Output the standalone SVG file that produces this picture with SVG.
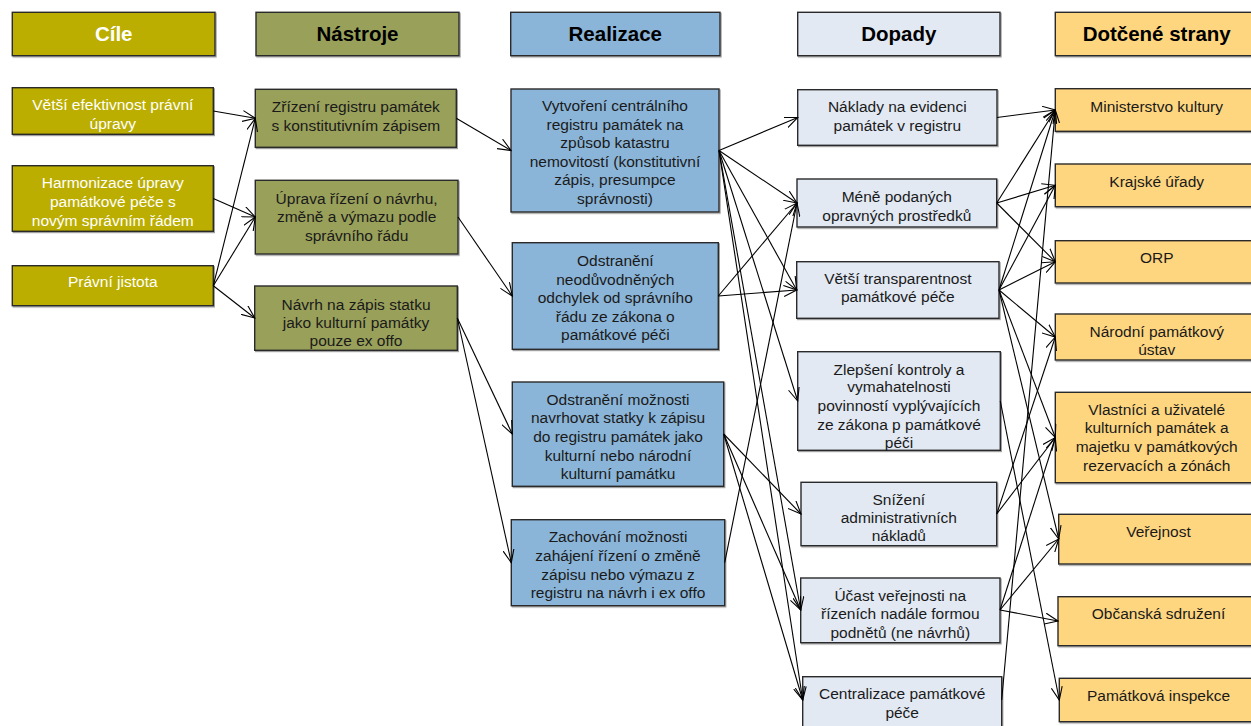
<svg xmlns="http://www.w3.org/2000/svg" width="1251" height="726" viewBox="0 0 1251 726">
<defs>
<style>
text{font-family:"Liberation Sans",Arial,sans-serif;font-size:15.5px;text-anchor:middle;fill:#1a1a1a}
.h{font-size:20.5px;font-weight:bold;fill:#000}
.w{fill:#fff}
rect{stroke:#2a2a2a;stroke-width:1.4;filter:url(#sh)}
.c{fill:#BBAE00}
.n{fill:#99A05A}
.r{fill:#8BB5D8}
.d{fill:#E2E9F3}
.s{fill:#FFD680}
#conn line{stroke:#000;stroke-width:1.1;marker-end:url(#arr)}
</style>
<filter id="sh" x="-5%" y="-5%" width="110%" height="115%">
<feDropShadow dx="1" dy="1.2" stdDeviation="0.6" flood-color="#888" flood-opacity="0.8"/>
</filter>
<marker id="arr" markerWidth="14" markerHeight="12" refX="13" refY="6" orient="auto" markerUnits="userSpaceOnUse" viewBox="0 0 14 12">
<path d="M0,0.5 L13,6 L0,11.5" fill="none" stroke="#000" stroke-width="1.1"/>
</marker>
</defs>
<rect x="0" y="0" width="1251" height="726" fill="#fff" style="stroke:none;filter:none"/>

<g id="hdr-cile"><rect class="c" x="12.3" y="12.3" width="202.7" height="43.4"/><text class="h w" x="113.7" y="40.5">Cíle</text></g>
<g id="hdr-nastroje"><rect class="n" x="256" y="12.3" width="203" height="43.4"/><text class="h" x="357.5" y="40.5">Nástroje</text></g>
<g id="hdr-realizace"><rect class="r" x="510.7" y="12.3" width="209.3" height="43.4"/><text class="h" x="615.3" y="40.5">Realizace</text></g>
<g id="hdr-dopady"><rect class="d" x="797.7" y="12.3" width="202.3" height="43.4"/><text class="h" x="898.8" y="40.5">Dopady</text></g>
<g id="hdr-strany"><rect class="s" x="1055.3" y="12.3" width="203" height="43.4"/><text class="h" x="1156.7" y="40.5">Dotčené strany</text></g>

<g id="c1"><rect class="c" x="12.3" y="87.7" width="201" height="46.6"/><text class="w" x="112.8" y="110">Větší efektivnost právní</text><text class="w" x="112.8" y="129">úpravy</text></g>
<g id="c2"><rect class="c" x="12.3" y="165.7" width="201" height="65.6"/><text class="w" x="112.8" y="188">Harmonizace úpravy</text><text class="w" x="112.8" y="207">památkové péče s</text><text class="w" x="112.8" y="225.5">novým správním řádem</text></g>
<g id="c3"><rect class="c" x="12.3" y="265.7" width="201" height="40"/><text class="w" x="112.8" y="287">Právní jistota</text></g>

<g id="n1"><rect class="n" x="255.3" y="89.3" width="201" height="58"/><text x="355.8" y="112">Zřízení registru památek</text><text x="355.8" y="130.5">s konstitutivním zápisem</text></g>
<g id="n2"><rect class="n" x="255.3" y="180.3" width="202.7" height="73.7"/><text x="356.6" y="203.5">Úprava řízení o návrhu,</text><text x="356.6" y="221.5">změně a výmazu podle</text><text x="356.6" y="240.5">správního řádu</text></g>
<g id="n3"><rect class="n" x="254.7" y="286" width="202.6" height="64.3"/><text x="356" y="309.5">Návrh na zápis statku</text><text x="356" y="328">jako kulturní památky</text><text x="356" y="346">pouze ex offo</text></g>

<g id="r1"><rect class="r" x="511" y="89" width="208" height="123"/><text x="615" y="111">Vytvoření centrálního</text><text x="615" y="130">registru památek na</text><text x="615" y="148">způsob katastru</text><text x="615" y="167">nemovitostí (konstitutivní</text><text x="615" y="185">zápis, presumpce</text><text x="615" y="203.5">správnosti)</text></g>
<g id="r2"><rect class="r" x="512.3" y="242.7" width="206" height="106.6"/><text x="615.3" y="265.5">Odstranění</text><text x="615.3" y="284.5">neodůvodněných</text><text x="615.3" y="303">odchylek od správního</text><text x="615.3" y="321.5">řádu ze zákona o</text><text x="615.3" y="340">památkové péči</text></g>
<g id="r3"><rect class="r" x="512.3" y="382" width="211.4" height="104.3"/><text x="618" y="404.5">Odstranění možnosti</text><text x="618" y="423">navrhovat statky k zápisu</text><text x="618" y="442">do registru památek jako</text><text x="618" y="460.5">kulturní nebo národní</text><text x="618" y="479">kulturní památku</text></g>
<g id="r4"><rect class="r" x="511.3" y="519.7" width="213.4" height="86"/><text x="618" y="542">Zachování možnosti</text><text x="618" y="560.5">zahájení řízení o změně</text><text x="618" y="579.5">zápisu nebo výmazu z</text><text x="618" y="598">registru na návrh i ex offo</text></g>

<g id="d1"><rect class="d" x="797.7" y="89.7" width="199.3" height="55.6"/><text x="897.3" y="112">Náklady na evidenci</text><text x="897.3" y="130.5">památek v registru</text></g>
<g id="d2"><rect class="d" x="797" y="179" width="199.7" height="48"/><text x="896.8" y="201.5">Méně podaných</text><text x="896.8" y="220.5">opravných prostředků</text></g>
<g id="d3"><rect class="d" x="796.7" y="261.7" width="202.3" height="56.6"/><text x="897.8" y="283.5">Větší transparentnost</text><text x="897.8" y="302">památkové péče</text></g>
<g id="d4"><rect class="d" x="797.7" y="351.7" width="202.6" height="98.6"/><text x="899" y="374.5">Zlepšení kontroly a</text><text x="899" y="392">vymahatelnosti</text><text x="899" y="411">povinností vyplývajících</text><text x="899" y="429.5">ze zákona p památkové</text><text x="899" y="448">péči</text></g>
<g id="d5"><rect class="d" x="801" y="482.3" width="195.7" height="63.4"/><text x="898.8" y="504.5">Snížení</text><text x="898.8" y="523">administrativních</text><text x="898.8" y="541">nákladů</text></g>
<g id="d6"><rect class="d" x="800.7" y="578" width="199.3" height="64.7"/><text x="900.3" y="600.5">Účast veřejnosti na</text><text x="900.3" y="619">řízeních nadále formou</text><text x="900.3" y="637.5">podnětů (ne návrhů)</text></g>
<g id="d7"><rect class="d" x="802.7" y="676.7" width="199" height="60"/><text x="902.2" y="698.5">Centralizace památkové</text><text x="902.2" y="718">péče</text></g>

<g id="s1"><rect class="s" x="1055.3" y="88.7" width="203" height="42.6"/><text x="1156.7" y="111.5">Ministerstvo kultury</text></g>
<g id="s2"><rect class="s" x="1055.3" y="164" width="203" height="42.7"/><text x="1156.7" y="186.5">Krajské úřady</text></g>
<g id="s3"><rect class="s" x="1055.3" y="240.7" width="203" height="42.3"/><text x="1156.7" y="262.5">ORP</text></g>
<g id="s4"><rect class="s" x="1055.3" y="314" width="203" height="46"/><text x="1156.7" y="336.5">Národní památkový</text><text x="1156.7" y="355">ústav</text></g>
<g id="s5"><rect class="s" x="1055.3" y="392.3" width="203" height="90.4"/><text x="1156.7" y="414.5">Vlastníci a uživatelé</text><text x="1156.7" y="433">kulturních památek a</text><text x="1156.7" y="452">majetku v památkových</text><text x="1156.7" y="470.5">rezervacích a zónách</text></g>
<g id="s6"><rect class="s" x="1058.7" y="514.3" width="200" height="49.7"/><text x="1158.5" y="537">Veřejnost</text></g>
<g id="s7"><rect class="s" x="1058" y="596.7" width="200.5" height="49"/><text x="1158.5" y="618.5">Občanská sdružení</text></g>
<g id="s8"><rect class="s" x="1059.3" y="678.3" width="199" height="43.4"/><text x="1158.5" y="701">Památková inspekce</text></g>

<g id="conn">
<line x1="213.3" y1="111" x2="255.3" y2="118.3"/>
<line x1="213.3" y1="198.5" x2="255.3" y2="217"/>
<line x1="213.3" y1="285.7" x2="255.3" y2="118.3"/>
<line x1="213.3" y1="285.7" x2="255.3" y2="217"/>
<line x1="213.3" y1="285.7" x2="254.7" y2="318"/>

<line x1="456.3" y1="118.3" x2="511" y2="150.5"/>
<line x1="458" y1="217" x2="512.3" y2="296"/>
<line x1="457.3" y1="318" x2="512.3" y2="434"/>
<line x1="457.3" y1="318" x2="511.3" y2="562.7"/>

<line x1="719" y1="150.5" x2="797.7" y2="117.5"/>
<line x1="719" y1="150.5" x2="797" y2="203"/>
<line x1="719" y1="150.5" x2="796.7" y2="290"/>
<line x1="719" y1="150.5" x2="797.7" y2="401"/>
<line x1="719" y1="150.5" x2="800.7" y2="610"/>
<line x1="719" y1="150.5" x2="802.7" y2="700"/>
<line x1="718.3" y1="296" x2="797" y2="203"/>
<line x1="718.3" y1="296" x2="796.7" y2="290"/>
<line x1="723.7" y1="434" x2="801" y2="514"/>
<line x1="723.7" y1="434" x2="800.7" y2="610"/>
<line x1="723.7" y1="434" x2="802.7" y2="700"/>
<line x1="724.7" y1="562.7" x2="797" y2="203"/>

<line x1="997" y1="117.5" x2="1055.3" y2="110"/>
<line x1="996.7" y1="203" x2="1055.3" y2="110"/>
<line x1="996.7" y1="203" x2="1055.3" y2="185.3"/>
<line x1="996.7" y1="203" x2="1055.3" y2="261.8"/>
<line x1="999" y1="290" x2="1055.3" y2="110"/>
<line x1="999" y1="290" x2="1055.3" y2="185.3"/>
<line x1="999" y1="290" x2="1055.3" y2="261.8"/>
<line x1="999" y1="290" x2="1055.3" y2="337"/>
<line x1="999" y1="290" x2="1055.3" y2="437.5"/>
<line x1="999" y1="290" x2="1058.7" y2="539"/>
<line x1="1000.3" y1="401" x2="1059.3" y2="700"/>
<line x1="996.7" y1="514" x2="1055.3" y2="337"/>
<line x1="996.7" y1="514" x2="1055.3" y2="437.5"/>
<line x1="1000" y1="610" x2="1055.3" y2="437.5"/>
<line x1="1000" y1="610" x2="1058.7" y2="539"/>
<line x1="1000" y1="610" x2="1058" y2="621"/>
<line x1="1001.7" y1="700" x2="1055.3" y2="110"/>
</g>
</svg>
